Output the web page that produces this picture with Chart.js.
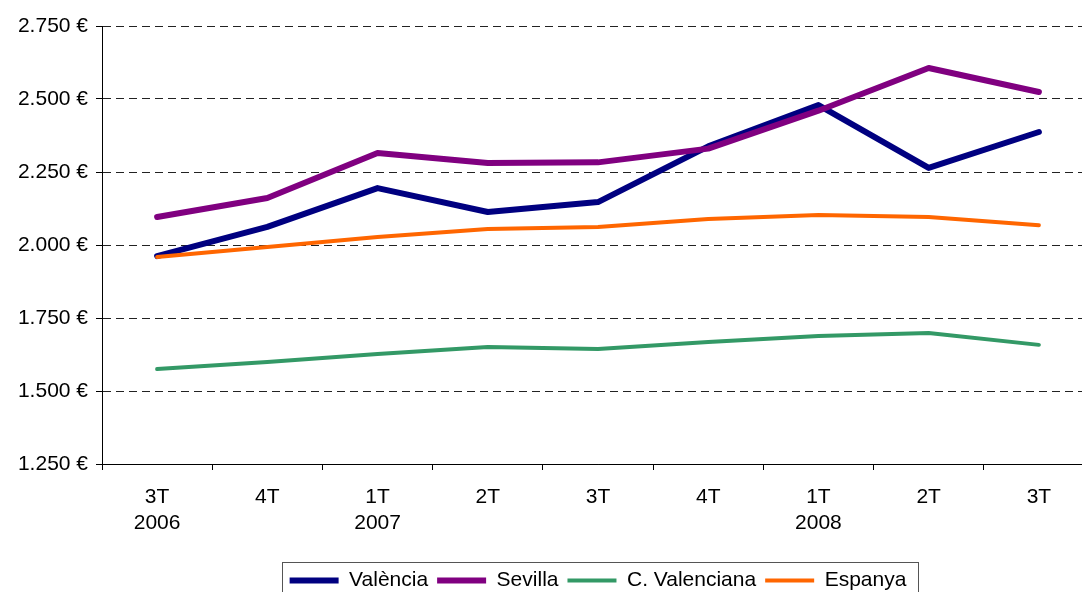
<!DOCTYPE html>
<html>
<head>
<meta charset="utf-8">
<script src="https://cdn.jsdelivr.net/npm/chart.js@4/dist/chart.umd.min.js"></script>
<style>
  html, body { margin: 0; padding: 0; background: #fff; overflow: hidden; }
  #wrap { width: 1100px; height: 592px; }
</style>
</head>
<body>
<div id="wrap"><canvas id="chart" width="1100" height="592"></canvas></div>
<script>
// quarters and years shown under the x axis
var quarters = ['3T', '4T', '1T', '2T', '3T', '4T', '1T', '2T', '3T'];
var years = ['2006', '', '2007', '', '', '', '2008', '', ''];

// average prices (EUR)
var valencia = [1962, 2062, 2195, 2113, 2147, 2338, 2479, 2264, 2387];
var sevilla = [2096, 2161, 2315, 2281, 2283, 2330, 2460, 2606, 2524];
var cValenciana = [1575, 1599, 1627, 1651, 1644, 1668, 1688, 1699, 1658];
var espanya = [1959, 1993, 2027, 2055, 2062, 2089, 2103, 2096, 2068];

var labels = quarters.map(function (q, i) { return [q, years[i]]; });

var fontFamily = '"Liberation Sans", Arial, sans-serif';

// thousands with a dot, then the euro sign
function euro(value) {
    return String(value).replace(/\B(?=(\d{3})+(?!\d))/g, '.') + ' €';
}

// draws a thin frame round the legend items
var legendFrame = {
    id: 'legendFrame',
    afterDraw: function (chart) {
        var lg = chart.legend;
        if (!lg || !lg.legendHitBoxes.length) return;
        var left = Infinity, right = -Infinity;
        lg.legendHitBoxes.forEach(function (b) {
            left = Math.min(left, b.left);
            right = Math.max(right, b.left + b.width);
        });
        var ctx = chart.ctx;
        ctx.save();
        ctx.strokeStyle = '#555';
        ctx.lineWidth = 1;
        ctx.strokeRect(Math.round(left) - 7.5, Math.round(lg.top) + 1.5, Math.round(right - left) + 19, 40);
        ctx.restore();
    }
};

var ctx = document.getElementById('chart').getContext('2d');
var chart = new Chart(ctx, {
    type: 'line',
    data: {
        labels: labels,
        datasets: [
            { label: 'València', data: valencia, borderColor: '#000080', backgroundColor: '#000080', borderWidth: 6, order: 4 },
            { label: 'Sevilla', data: sevilla, borderColor: '#800080', backgroundColor: '#800080', borderWidth: 6, order: 3 },
            { label: 'C. Valenciana', data: cValenciana, borderColor: '#339966', backgroundColor: '#339966', borderWidth: 4, order: 2 },
            { label: 'Espanya', data: espanya, borderColor: '#FF6600', backgroundColor: '#FF6600', borderWidth: 4, order: 1 }
        ]
    },
    options: {
        responsive: false,
        animation: false,
        devicePixelRatio: 1,
        layout: { padding: { top: 26, right: 6, left: 0, bottom: -9 } },
        elements: {
            point: { radius: 0, hoverRadius: 0 },
            line: { tension: 0, borderCapStyle: 'round', borderJoinStyle: 'round', fill: false }
        },
        scales: {
            x: {
                offset: true,
                grid: { offset: true, drawOnChartArea: false, drawTicks: true, tickLength: 6, tickColor: '#000', color: '#000' },
                border: { display: true, color: '#000', width: 1 },
                ticks: {
                    autoSkip: false, maxRotation: 0, padding: 14, color: '#000',
                    font: { family: fontFamily, size: 21, lineHeight: 1.24 }
                },
                afterFit: function (scale) { scale.height = 97; }
            },
            y: {
                min: 1250,
                max: 2750,
                grid: { color: '#222', lineWidth: 1, tickLength: 6, tickColor: '#000', tickBorderDash: [] },
                border: { display: true, color: '#000', width: 1, dash: [8, 5] },
                ticks: {
                    stepSize: 250, padding: 8, color: '#000',
                    font: { family: fontFamily, size: 21 },
                    callback: function (value) { return euro(value); }
                },
                afterFit: function (scale) { scale.width = 102; }
            }
        },
        plugins: {
            tooltip: { enabled: false },
            legend: {
                position: 'bottom',
                fullSize: false,
                labels: {
                    usePointStyle: true,
                    pointStyle: 'line',
                    pointStyleWidth: 49,
                    padding: 9,
                    color: '#000',
                    font: { family: fontFamily, size: 21 },
                    sort: function (a, b) { return a.datasetIndex - b.datasetIndex; }
                }
            }
        }
    },
    plugins: [legendFrame]
});
</script>
</body>
</html>
